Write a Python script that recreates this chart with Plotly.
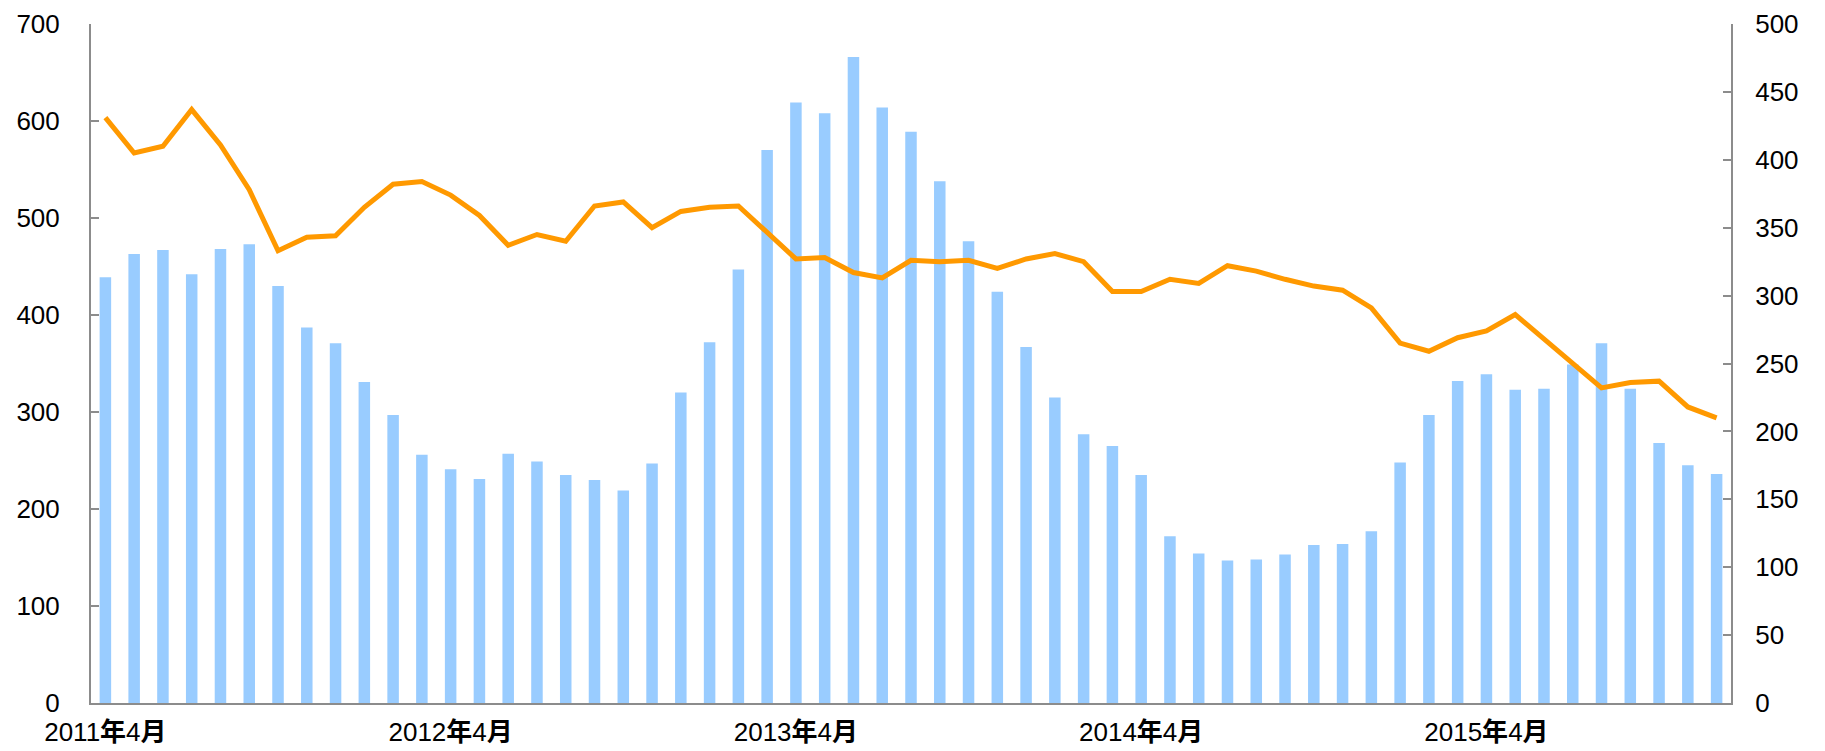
import plotly.graph_objects as go

months = [f"{2011 + (3 + i) // 12}年{(3 + i) % 12 + 1}月" for i in range(57)]

bar_values = [439, 463, 467, 442, 468, 473, 430, 387, 371, 331,
              297, 256, 241, 231, 257, 249, 235, 230, 219, 247,
              320, 372, 447, 570, 619, 608, 666, 614, 589, 538,
              476, 424, 367, 315, 277, 265, 235, 172, 154, 147,
              148, 153, 163, 164, 177, 248, 297, 332, 339, 323,
              324, 349, 371, 324, 268, 245, 236]

line_values = [431, 405, 410, 437, 411, 378, 333, 343, 344, 365,
               382, 384, 374, 359, 337, 345, 340, 366, 369, 350,
               362, 365, 366, 347, 327, 328, 317, 313, 326, 325,
               326, 320, 327, 331, 325, 303, 303, 312, 309, 322,
               318, 312, 307, 304, 291, 265, 259, 269, 274, 286,
               268, 250, 232, 236, 237, 218, 210]

tick_labels = ["2011<b>年</b>4<b>月</b>", "2012<b>年</b>4<b>月</b>", "2013<b>年</b>4<b>月</b>",
               "2014<b>年</b>4<b>月</b>", "2015<b>年</b>4<b>月</b>"]
tick_positions = [months[i] for i in (0, 12, 24, 36, 48)]

font_family = "Liberation Sans, Arial, Noto Sans CJK SC, sans-serif"
axis_color = "#8c8c8c"

fig = go.Figure()
fig.add_trace(go.Bar(x=months, y=bar_values, marker=dict(color="#99CCFF", line=dict(width=0)),
                     yaxis="y", name="bar"))
fig.add_trace(go.Scatter(x=months, y=line_values, mode="lines",
                         line=dict(color="#FF9900", width=5), yaxis="y2", name="line"))

fig.update_layout(
    width=1817, height=743,
    margin=dict(l=83, r=94, t=16, b=48),
    plot_bgcolor="white", paper_bgcolor="white",
    showlegend=False,
    bargap=0.6,
    font=dict(family=font_family, size=26, color="#000000"),
    xaxis=dict(
        type="category", range=[-0.5, 56.5], automargin=False,
        tickmode="array", tickvals=tick_positions, ticktext=tick_labels,
        showline=True, linecolor=axis_color, linewidth=2,
        ticks="", showgrid=False, zeroline=False,
        ticklabelstandoff=5, ticklabeloverflow="allow",
        tickfont=dict(size=26),
    ),
    yaxis=dict(
        range=[0, 700], tickvals=[0, 100, 200, 300, 400, 500, 600, 700], automargin=False,
        showline=True, linecolor=axis_color, linewidth=2,
        ticks="inside", ticklen=8, tickcolor=axis_color, tickwidth=2,
        showgrid=False, zeroline=False,
        ticklabelstandoff=24, ticklabeloverflow="allow",
        tickfont=dict(size=26),
    ),
    yaxis2=dict(
        range=[0, 500], tickvals=[0, 50, 100, 150, 200, 250, 300, 350, 400, 450, 500],
        overlaying="y", side="right", automargin=False,
        showline=True, linecolor=axis_color, linewidth=2,
        ticks="inside", ticklen=8, tickcolor=axis_color, tickwidth=2,
        showgrid=False, zeroline=False,
        ticklabelstandoff=17, ticklabeloverflow="allow",
        tickfont=dict(size=26),
    ),
)

fig.write_html("out.html")
